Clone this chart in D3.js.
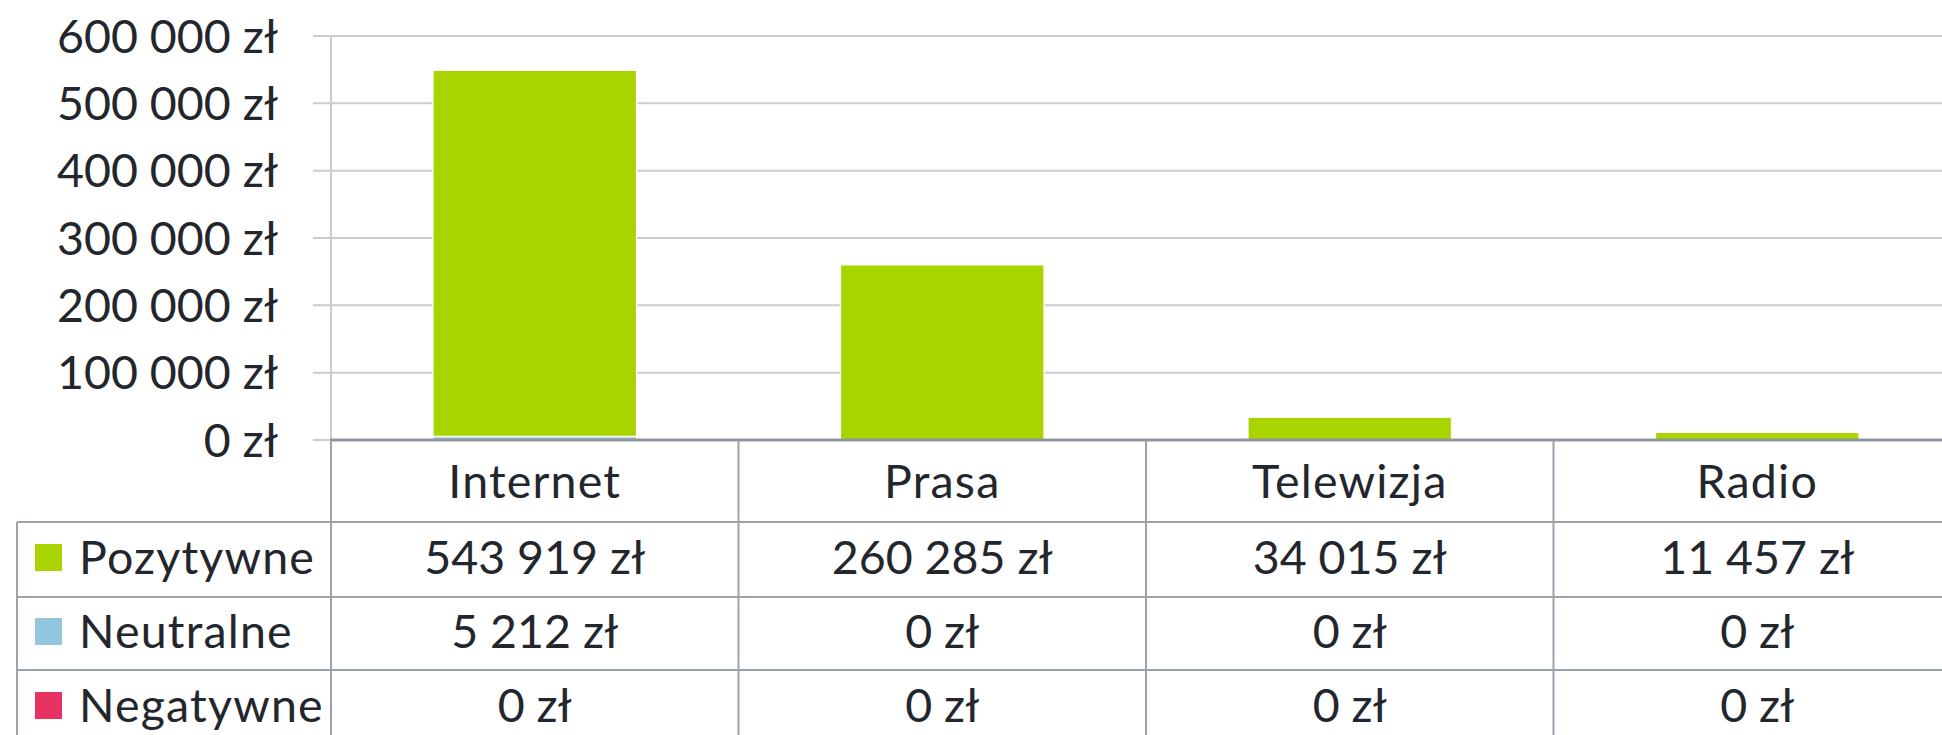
<!DOCTYPE html>
<html>
<head>
<meta charset="utf-8">
<script src="https://cdn.jsdelivr.net/npm/d3@7"></script>
<style>
  body { margin: 0; background: #ffffff; overflow: hidden; }
  text { font-family: Lato, "Open Sans", sans-serif; fill: #23272d; }
  .word { letter-spacing: 1.2px; }
</style>
</head>
<body>
<div id="container"></div>
<script>
const categories = ['Internet', 'Prasa', 'Telewizja', 'Radio'];
const seriesNames = ['Pozytywne', 'Neutralne', 'Negatywne'];
const pozytywne = [543919, 260285, 34015, 11457];
const neutralne = [5212, 0, 0, 0];
const negatywne = [0, 0, 0, 0];
const yTicks = [0, 100000, 200000, 300000, 400000, 500000, 600000];

const colors = { Pozytywne: '#aad400', Neutralne: '#92c5de', Negatywne: '#e63363' };

const W = 1942, H = 735;
const plot = { left: 331, top: 36, bottom: 440, band: 407.5 };
const rowLines = [522, 597, 670, 745];
const tableLeft = 17;
const fontSize = 46.5;

const locale = d3.formatLocale({ decimal: ',', thousands: ' ', grouping: [3], currency: ['', ' zł'] });
const fmt = locale.format('$,');

const rows = categories.map((c, i) => ({
    cat: c,
    Pozytywne: pozytywne[i],
    Neutralne: neutralne[i],
    Negatywne: negatywne[i]
}));

const svg = d3.select('#container')
    .append('svg')
    .attr('width', W)
    .attr('height', H)
    .attr('viewBox', `0 0 ${W} ${H}`);

const x = d3.scaleBand()
    .domain(categories)
    .range([plot.left, plot.left + plot.band * categories.length]);

const y = d3.scaleLinear()
    .domain([0, 600000])
    .range([plot.bottom, plot.top]);

// grid lines
svg.append('g')
    .selectAll('line')
    .data(yTicks).enter()
    .append('line')
    .attr('x1', 313)
    .attr('x2', W)
    .attr('y1', d => y(d))
    .attr('y2', d => y(d))
    .attr('stroke', '#c9cbce')
    .attr('stroke-width', 2);

// y axis line inside plot
svg.append('line')
    .attr('x1', plot.left).attr('x2', plot.left)
    .attr('y1', plot.top).attr('y2', plot.bottom)
    .attr('stroke', '#c9cbce')
    .attr('stroke-width', 2);

// y labels
svg.append('g')
    .selectAll('text')
    .data(yTicks).enter()
    .append('text')
    .attr('x', 278)
    .attr('y', d => y(d))
    .attr('dy', '0.36em')
    .attr('text-anchor', 'end')
    .attr('font-size', fontSize)
    .text(d => fmt(d));

// stacked bars
const stack = d3.stack().keys(['Negatywne', 'Neutralne', 'Pozytywne']);
const stacked = stack(rows);
const barW = x.bandwidth() * 0.5;

svg.append('g')
    .selectAll('g')
    .data(stacked).enter()
    .append('g')
    .attr('fill', d => colors[d.key])
    .selectAll('rect')
    .data(d => d.filter(p => p[1] - p[0] > 0)).enter()
    .append('rect')
    .attr('x', d => x(d.data.cat) + (x.bandwidth() - barW) / 2)
    .attr('width', barW)
    .attr('y', d => y(d[1]))
    .attr('height', d => y(d[0]) - y(d[1]))
    .attr('stroke', '#ffffff')
    .attr('stroke-width', 1.5);

// table lines
const grid = svg.append('g')
    .attr('stroke', '#9ba2aa')
    .attr('stroke-width', 2);

grid.selectAll('line.h')
    .data(rowLines.slice(0, 3)).enter()
    .append('line')
    .attr('x1', tableLeft)
    .attr('x2', W)
    .attr('y1', d => d)
    .attr('y2', d => d);

grid.selectAll('line.v')
    .data(categories).enter()
    .append('line')
    .attr('x1', d => x(d))
    .attr('x2', d => x(d))
    .attr('y1', plot.bottom)
    .attr('y2', H);

grid.append('line')
    .attr('x1', tableLeft).attr('x2', tableLeft)
    .attr('y1', rowLines[0]).attr('y2', H);

// x axis line
svg.append('line')
    .attr('x1', plot.left - 1)
    .attr('x2', W)
    .attr('y1', plot.bottom)
    .attr('y2', plot.bottom)
    .attr('stroke', '#8f969e')
    .attr('stroke-width', 3);

// category labels
svg.append('g')
    .selectAll('text')
    .data(categories).enter()
    .append('text')
    .attr('class', 'word')
    .attr('x', d => x(d) + x.bandwidth() / 2)
    .attr('y', (plot.bottom + rowLines[0]) / 2)
    .attr('dy', '0.36em')
    .attr('text-anchor', 'middle')
    .attr('font-size', fontSize)
    .text(d => d);

// table rows
const seriesValues = { Pozytywne: pozytywne, Neutralne: neutralne, Negatywne: negatywne };
seriesNames.forEach((name, r) => {
    const cy = (rowLines[r] + rowLines[r + 1]) / 2 - 2;
    svg.append('rect')
        .attr('x', 35)
        .attr('y', cy - 13.5)
        .attr('width', 27)
        .attr('height', 27)
        .attr('fill', colors[name]);
    svg.append('text')
        .attr('class', 'word')
        .attr('x', 79)
        .attr('y', cy)
        .attr('dy', '0.36em')
        .attr('font-size', fontSize)
        .text(name);
    svg.append('g')
        .selectAll('text')
        .data(seriesValues[name]).enter()
        .append('text')
        .attr('x', (d, i) => x(categories[i]) + x.bandwidth() / 2)
        .attr('y', cy)
        .attr('dy', '0.36em')
        .attr('text-anchor', 'middle')
        .attr('font-size', fontSize)
        .text(d => fmt(d));
});
</script>
</body>
</html>
